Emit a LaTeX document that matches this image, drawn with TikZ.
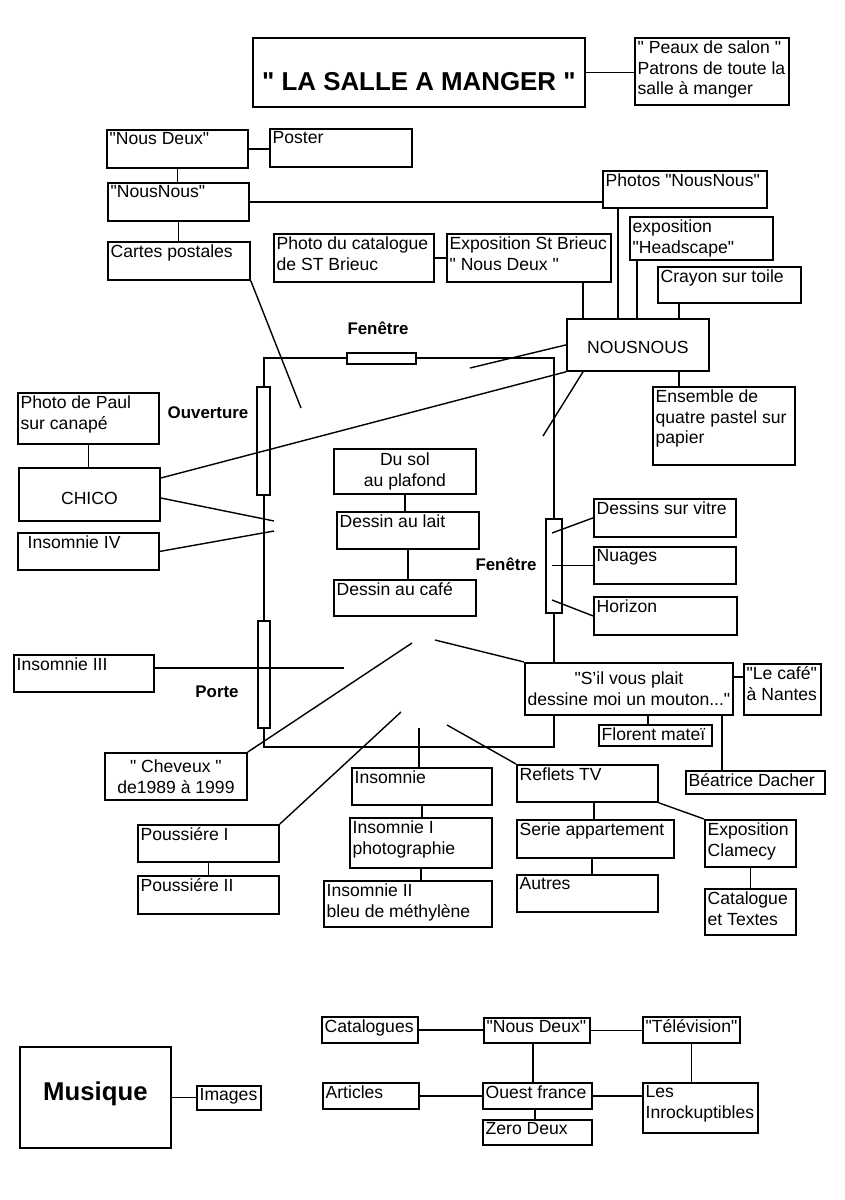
\documentclass[tikz,border=0pt]{standalone}
\usepackage{fontspec}
\newfontfamily\helv{Liberation Sans}
\newcommand{\px}{0.025cm}
\newcommand{\boxfont}{\helv\fontsize{12.5}{14.7}\selectfont}
\tikzset{
  boite/.style   ={draw, line width=1.3pt, fill=white, inner sep=0pt, font=\boxfont},
  etiq/.style    ={anchor=north west, inner sep=2.4pt, align=left, font=\boxfont},
  grandtitre/.style={font=\helv\bfseries\fontsize{18.4}{22}\selectfont, text height=0.89cm, text depth=0pt},
  grosmot/.style ={font=\helv\bfseries\fontsize{18.3}{21}\selectfont, text depth=0.33cm},
  piece/.style   ={font=\helv\bfseries\fontsize{12}{14}\selectfont},
  lien/.style    ={line width=1pt},
  mur/.style     ={line width=1.2pt},
  fenetre/.style ={draw, line width=1.2pt, fill=white},
}
% box with text in the top left corner: name, x1, y1, x2, y2, text
\newcommand{\boite}[6]{%
  \node[boite, anchor=north west, minimum width={(#4-#2)*\px},
        minimum height={(#5-#3)*\px}, label={[etiq]north west:{#6}}] (#1) at (#2,#3) {};}
% box with centred text
\newcommand{\boitec}[7][]{%
  \node[boite, align=center, anchor=north west, minimum width={(#5-#3)*\px},
        minimum height={(#6-#4)*\px}, #1] (#2) at (#3,#4) {#7};}

\begin{document}
\begin{tikzpicture}[x=0.025cm, y=-0.025cm]
  \path[use as bounding box, fill=white] (0,0) rectangle (845,1200);

  % the room
  \draw[mur] (264,387) -- (264,358) -- (347,358) (416,358) -- (554,358) -- (554,519)
             (554,613) -- (554,747) -- (264,747) -- (264,728) (264,621) -- (264,495);
  \draw[fenetre] (347,353) rectangle (416,364);
  \draw[fenetre] (546,519) rectangle (562,613);
  \draw[fenetre] (257,387) rectangle (270,495);
  \draw[fenetre] (258,621) rectangle (270,728);
  \node[piece] (fenhaut) at (378,328) {Fenêtre};
  \node[piece] (ouverture) at (208,413) {Ouverture};
  \node[piece] (fendroite) at (506,564) {Fenêtre};
  \node[piece] (porte) at (217,692) {Porte};

  % boxes
  \boitec[grandtitre]{titre}{252}{37}{584}{106}{" LA SALLE A MANGER "}
  \boite{peaux}{634}{37}{788}{104}{" Peaux de salon "\\Patrons de toute la\\salle à manger}
  \boite{ndeux}{106}{129}{247}{167}{"Nous Deux"}
  \boite{poster}{269}{128}{411}{166}{Poster}
  \boite{nnous}{107}{182}{248}{220}{"NousNous"}
  \boite{cartes}{107}{241}{249}{279}{Cartes postales}
  \boite{photocat}{273}{233}{433}{281}{Photo du catalogue\\de ST Brieuc}
  \boite{expobrieuc}{446}{233}{610}{281}{Exposition St Brieuc\\" Nous Deux "}
  \boite{photosnn}{602}{170}{766}{207}{Photos "NousNous"}
  \boite{headscape}{629}{216}{772}{259}{exposition\\"Headscape"}
  \boite{crayon}{657}{266}{800}{302}{Crayon sur toile}
  \boitec[text height=0.45cm, text depth=0pt]{nousnous}{566}{318}{708}{370}{NOUSNOUS}
  \boite{ensemble}{652}{386}{794}{464}{Ensemble de\\quatre pastel sur\\papier}
  \boite{photopaul}{17}{392}{158}{443}{Photo de Paul\\sur canapé}
  \boitec[text height=0.51cm, text depth=0pt]{chico}{18}{467}{159}{520}{CHICO}
  \boite{insomnie4}{17}{532}{158}{569}{\hspace*{5pt}Insomnie IV}
  \boitec{dusol}{333}{448}{475}{493}{Du sol\\au plafond}
  \boite{lait}{336}{511}{478}{548}{Dessin au lait}
  \boite{cafe}{333}{579}{475}{615}{Dessin au café}
  \boite{vitre}{593}{498}{735}{536}{Dessins sur vitre}
  \boite{nuages}{593}{546}{735}{583}{Nuages}
  \boite{horizon}{593}{596}{736}{634}{Horizon}
  \boite{insomnie3}{13}{654}{153}{691}{Insomnie III}
  \boitec{mouton}{524}{662}{732}{714}{"S’il vous plait\\dessine moi un mouton..."}
  \boite{nantes}{743}{663}{820}{714}{"Le café"\\à Nantes}
  \boite{florent}{598}{724}{711}{745}{Florent mateï}
  \boite{beatrice}{685}{770}{824}{793}{Béatrice Dacher}
  \boitec{cheveux}{104}{752}{246}{799}{" Cheveux "\\de1989 à 1999}
  \boite{pouss1}{137}{824}{278}{861}{Poussiére I}
  \boite{pouss2}{137}{875}{278}{913}{Poussiére II}
  \boite{insomnie}{351}{767}{491}{804}{Insomnie}
  \boite{insomnie1}{349}{817}{491}{867}{Insomnie I\\photographie}
  \boite{insomnie2}{323}{880}{491}{926}{Insomnie II\\bleu de méthylène}
  \boite{reflets}{516}{764}{657}{801}{Reflets TV}
  \boite{serie}{516}{819}{673}{857}{Serie appartement}
  \boite{autres}{516}{874}{657}{911}{Autres}
  \boite{clamecy}{704}{819}{795}{866}{Exposition\\Clamecy}
  \boite{catalogue}{704}{888}{795}{934}{Catalogue\\et Textes}
  \boitec[grosmot]{musique}{19}{1046}{170}{1147}{Musique}
  \boite{images}{196}{1085}{260}{1109}{Images}
  \boite{catalogues}{321}{1016}{417}{1042}{Catalogues}
  \boite{bnousdeux}{483}{1017}{589}{1042}{"Nous Deux"}
  \boite{television}{642}{1016}{739}{1042}{"Télévision"}
  \boite{articles}{322}{1082}{418}{1108}{Articles}
  \boite{ouest}{482}{1082}{591}{1108}{Ouest france}
  \boite{inrock}{642}{1082}{757}{1132}{Les\\Inrockuptibles}
  \boite{zerodeux}{482}{1119}{591}{1144}{Zero Deux}

  % free ends inside the room
  \coordinate (cartesbout) at (301,408);
  \coordinate (nnbout1) at (470,368);
  \coordinate (nnbout2) at (543,436);
  \coordinate (chicobout) at (274,521);
  \coordinate (insobout) at (274,531);
  \coordinate (vitrebout) at (552,533);
  \coordinate (horizonbout) at (552,600);
  \coordinate (insobout3) at (344,668);
  \coordinate (cheveuxbout) at (412,643);
  \coordinate (poussbout) at (401,712);
  \coordinate (insombout) at (419,728);
  \coordinate (moutonbout) at (435,640);
  \coordinate (refletsbout) at (447,725);

  % connectors
  \draw[lien] (titre.east) -- (titre.east -| peaux.west);
  \draw[lien] (ndeux.east) -- (ndeux.east -| poster.west);
  \draw[lien] (ndeux.south) -- (ndeux.south |- nnous.north);
  \draw[lien] (nnous.east) -- (nnous.east -| photosnn.west);
  \draw[lien] (nnous.south) -- (nnous.south |- cartes.north);
  \draw[lien] (cartes.south east) -- (cartesbout);
  \draw[lien] (photocat.east) -- (photocat.east -| expobrieuc.west);
  \draw[lien] (583,0 |- expobrieuc.south) -- (583,0 |- nousnous.north);
  \draw[lien] (618,0 |- photosnn.south) -- (618,0 |- nousnous.north);
  \draw[lien] (637,0 |- headscape.south) -- (637,0 |- nousnous.north);
  \draw[lien] (679,0 |- crayon.south) -- (679,0 |- nousnous.north);
  \draw[lien] (679,0 |- nousnous.south) -- (679,0 |- ensemble.north);
  \draw[lien] (nousnous.west) -- (nnbout1);
  \draw[lien] (nousnous.south west) -- (chico.east |- 0,478);
  \draw[lien] (583,0 |- nousnous.south) -- (nnbout2);
  \draw[lien] (photopaul.south) -- (photopaul.south |- chico.north);
  \draw[lien] (chico.east |- 0,498) -- (chicobout);
  \draw[lien] (insomnie4.east) -- (insobout);
  \draw[lien] (dusol.south) -- (dusol.south |- lait.north);
  \draw[lien] (lait.south) -- (lait.south |- cafe.north);
  \draw[lien] (vitrebout) -- (vitre.west);
  \draw[lien] (552,0 |- nuages.west) -- (nuages.west);
  \draw[lien] (horizonbout) -- (horizon.west);
  \draw[lien] (insomnie3.east |- insobout3) -- (insobout3);
  \draw[lien] (cheveux.north east) -- (cheveuxbout);
  \draw[lien] (pouss1.north east) -- (poussbout);
  \draw[lien] (pouss1.south) -- (pouss1.south |- pouss2.north);
  \draw[lien] (insombout) -- (insombout |- insomnie.north);
  \draw[lien] (insomnie.south) -- (insomnie.south |- insomnie1.north);
  \draw[lien] (insomnie1.south) -- (insomnie1.south |- insomnie2.north);
  \draw[lien] (moutonbout) -- (mouton.north west);
  \draw[lien] (mouton.east |- 0,677) -- (nantes.west |- 0,677);
  \draw[lien] (648,0 |- mouton.south) -- (648,0 |- florent.north);
  \draw[lien] (722,0 |- mouton.south) -- (722,0 |- beatrice.north);
  \draw[lien] (refletsbout) -- (reflets.north west);
  \draw[lien] (reflets.south east) -- (clamecy.north west);
  \draw[lien] (594,0 |- reflets.south) -- (594,0 |- serie.north);
  \draw[lien] (592,0 |- serie.south) -- (592,0 |- autres.north);
  \draw[lien] (clamecy.south) -- (clamecy.south |- catalogue.north);
  \draw[lien] (musique.east) -- (musique.east -| images.west);
  \draw[lien] (catalogues.east) -- (catalogues.east -| bnousdeux.west);
  \draw[lien] (bnousdeux.east) -- (bnousdeux.east -| television.west);
  \draw[lien] (533,0 |- bnousdeux.south) -- (533,0 |- ouest.north);
  \draw[lien] (articles.east) -- (articles.east -| ouest.west);
  \draw[lien] (ouest.east) -- (ouest.east -| inrock.west);
  \draw[lien] (television.south) -- (television.south |- inrock.north);
  \draw[lien] (535,0 |- ouest.south) -- (535,0 |- zerodeux.north);
\end{tikzpicture}
\end{document}
